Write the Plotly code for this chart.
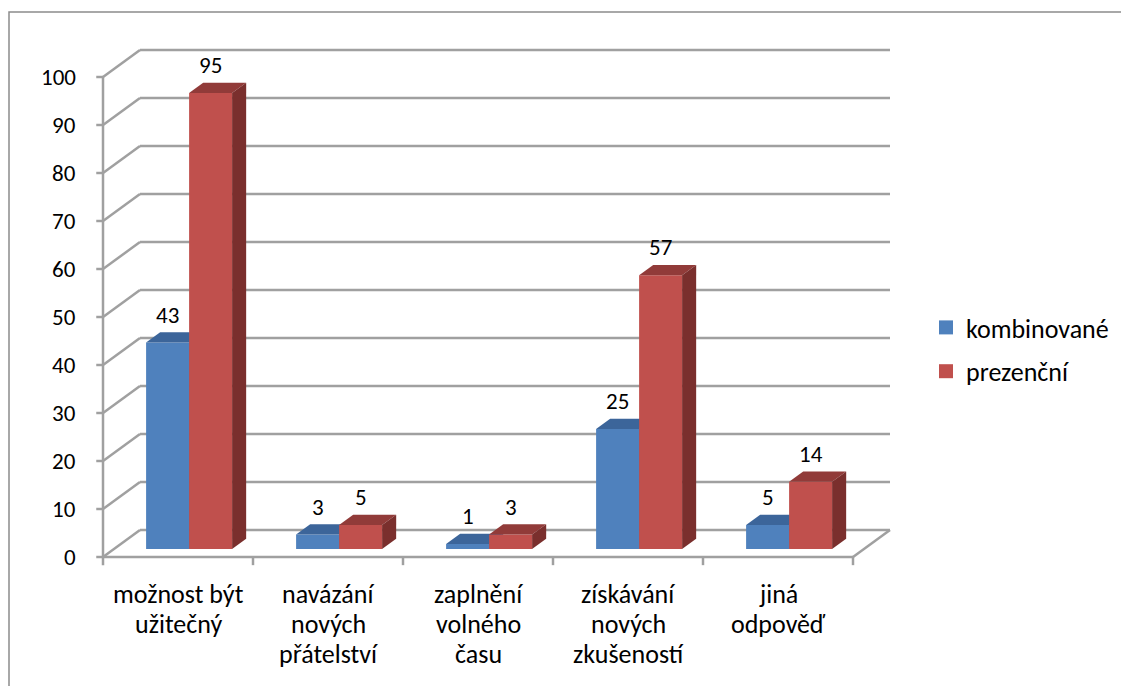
import plotly.graph_objects as go

# data
categories = [
    "možnost být\nužitečný",
    "navázání\nnových\npřátelství",
    "zaplnění\nvolného\nčasu",
    "získávání\nnových\nzkušeností",
    "jiná\nodpověď",
]
series_names = ["kombinované", "prezenční"]
kombinovane = [43, 3, 1, 25, 5]
prezencni = [95, 5, 3, 57, 14]
y_ticks = [0, 10, 20, 30, 40, 50, 60, 70, 80, 90, 100]

W, H = 1129, 686
FONT = "Carlito, Calibri, Lato, sans-serif"
TEXT_SIZE = 26
NUM_SIZE = 23

# fake 3d projection: x in category units, y in value units
# (page body adds an 8px offset, so pixel anchors are 8px less)
X0_PX, CAT_PX = 95, 150
Y0_PX, VAL_PX = 549, 4.8
DX = 37 / CAT_PX          # floor depth, x shift
DY = 27 / VAL_PX          # floor depth, y shift
D0, D1 = 0.3, 0.68        # bar depth span
BAR_W = 43 / CAT_PX
GRID = dict(color="#a0a0a0", width=2.5)

colors = {
    "kombinované": ("#4f81bd", "#3c659a", "#36598a"),
    "prezenční": ("#c0504d", "#913b39", "#7a2f2d"),
}

fig = go.Figure()


def line(xs, ys):
    fig.add_trace(go.Scatter(x=xs, y=ys, mode="lines", line=GRID,
                             hoverinfo="skip", showlegend=False))


def poly(xs, ys, color):
    fig.add_trace(go.Scatter(x=xs + [xs[0]], y=ys + [ys[0]], mode="lines",
                             fill="toself", fillcolor=color,
                             line=dict(width=0, color=color),
                             hoverinfo="skip", showlegend=False))


n = len(categories)

# walls and floor
for v in y_ticks:
    line([DX, n + DX], [v + DY, v + DY])
    line([0, DX], [v, v + DY])
    line([-0.045, 0], [v, v])
line([0, n], [0, 0])
line([n, n + DX], [0, DY])
line([0, 0], [-1.7, y_ticks[-1]])
for i in range(1, n + 1):
    line([i, i], [-1.7, 0])

# bars
for i in range(n):
    for s, (name, vals) in enumerate(zip(series_names, [kombinovane, prezencni])):
        v = vals[i]
        front, top, side = colors[name]
        x0 = i + 0.5 + D0 * DX - BAR_W + s * BAR_W
        x1 = x0 + BAR_W
        b = D0 * DY
        dx, dy = (D1 - D0) * DX, (D1 - D0) * DY
        poly([x0, x1, x1, x0], [b, b, b + v, b + v], front)
        poly([x0, x1, x1 + dx, x0 + dx], [b + v, b + v, b + v + dy, b + v + dy], top)
        poly([x1, x1 + dx, x1 + dx, x1], [b, b + dy, b + v + dy, b + v], side)
        fig.add_annotation(x=(x0 + x1) / 2, y=b + v + 28 / VAL_PX, text=str(v),
                           showarrow=False,
                           font=dict(size=NUM_SIZE, color="black", family=FONT))

# legend entries
for name in series_names:
    fig.add_trace(go.Scatter(x=[None], y=[None], mode="markers", name=name,
                             legendgroup=name,
                             marker=dict(symbol="square", size=14, color=colors[name][0])))

# y tick labels
for v in y_ticks:
    fig.add_annotation(x=-25 / CAT_PX, y=v, text=str(v), xanchor="right",
                       showarrow=False,
                       font=dict(size=NUM_SIZE, color="black", family=FONT))

# category labels, one annotation per line
for i, c in enumerate(categories):
    for k, part in enumerate(c.split("\n")):
        fig.add_annotation(x=i + 0.5, y=-(37 + 30 * k) / VAL_PX, text=part,
                           showarrow=False,
                           font=dict(size=TEXT_SIZE, color="black", family=FONT))

# chart border
fig.add_shape(type="rect", xref="paper", yref="paper",
              x0=1 / W, x1=1.02, y0=-0.03, y1=1 - 4 / H,
              line=dict(color="#8c8c8c", width=1.5))

fig.update_layout(
    width=W, height=H,
    margin=dict(l=0, r=0, t=0, b=0),
    paper_bgcolor="white", plot_bgcolor="white",
    font=dict(family=FONT, size=TEXT_SIZE, color="black"),
    xaxis=dict(visible=False, range=[-X0_PX / CAT_PX, (W - X0_PX) / CAT_PX], fixedrange=True),
    yaxis=dict(visible=False, range=[-(H - Y0_PX) / VAL_PX, Y0_PX / VAL_PX], fixedrange=True),
    legend=dict(x=918 / W, y=1 - 296 / H, xanchor="left", yanchor="top",
                tracegroupgap=7, font=dict(size=TEXT_SIZE), itemwidth=30),
    showlegend=True,
)

fig.write_html("out.html")
